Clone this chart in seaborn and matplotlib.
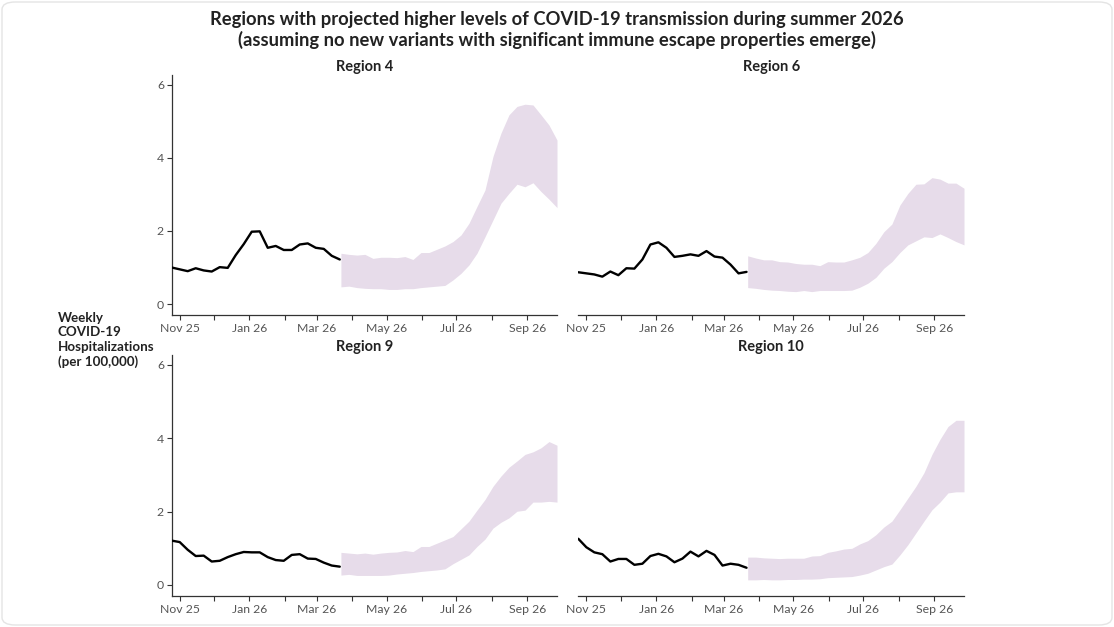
import numpy as np
import pandas as pd
import matplotlib
matplotlib.use("Agg")
import matplotlib.pyplot as plt
import matplotlib.dates as mdates
from matplotlib.patches import FancyBboxPatch
import seaborn as sns

# ---------------- data ----------------
regions = ["Region 4", "Region 6", "Region 9", "Region 10"]

obs_start = "2025-10-25"
proj_start = "2026-03-22"

obs_r4 = [1.00, 0.95, 0.90, 0.98, 0.92, 0.89, 1.01, 0.99, 1.34, 1.64, 1.98, 1.99,
          1.54, 1.59, 1.48, 1.48, 1.63, 1.66, 1.54, 1.51, 1.32, 1.22]
obs_r6 = [0.87, 0.84, 0.81, 0.75, 0.89, 0.79, 0.98, 0.97, 1.22, 1.63, 1.69, 1.54,
          1.29, 1.32, 1.36, 1.32, 1.45, 1.30, 1.27, 1.08, 0.84, 0.88]
obs_r9 = [1.21, 1.17, 0.96, 0.79, 0.80, 0.64, 0.66, 0.76, 0.84, 0.90, 0.89, 0.89,
          0.76, 0.68, 0.66, 0.82, 0.84, 0.72, 0.71, 0.61, 0.53, 0.50]
obs_r10 = [1.26, 1.03, 0.89, 0.84, 0.64, 0.71, 0.71, 0.55, 0.58, 0.79, 0.85, 0.78,
           0.62, 0.72, 0.91, 0.78, 0.93, 0.82, 0.53, 0.58, 0.55, 0.47]

up_r4 = [1.39, 1.36, 1.34, 1.36, 1.25, 1.28, 1.28, 1.27, 1.30, 1.22, 1.41, 1.41, 1.50, 1.59,
         1.71, 1.89, 2.21, 2.67, 3.12, 4.04, 4.68, 5.18, 5.41, 5.47, 5.45, 5.18, 4.90, 4.49]
lo_r4 = [0.47, 0.49, 0.45, 0.43, 0.42, 0.42, 0.40, 0.40, 0.42, 0.42, 0.45, 0.47, 0.49, 0.51,
         0.66, 0.84, 1.07, 1.39, 1.84, 2.30, 2.76, 3.03, 3.28, 3.21, 3.32, 3.08, 2.87, 2.64]
up_r6 = [1.32, 1.26, 1.21, 1.21, 1.16, 1.15, 1.11, 1.09, 1.09, 1.05, 1.16, 1.15, 1.15, 1.21,
         1.28, 1.41, 1.66, 1.98, 2.19, 2.71, 3.03, 3.28, 3.29, 3.46, 3.42, 3.31, 3.31, 3.17]
lo_r6 = [0.45, 0.43, 0.40, 0.38, 0.37, 0.35, 0.34, 0.37, 0.34, 0.37, 0.37, 0.37, 0.37, 0.38,
         0.46, 0.57, 0.73, 0.98, 1.16, 1.41, 1.62, 1.73, 1.84, 1.82, 1.92, 1.82, 1.71, 1.62]
up_r9 = [0.89, 0.87, 0.85, 0.87, 0.84, 0.87, 0.89, 0.90, 0.94, 0.91, 1.05, 1.05, 1.14, 1.23,
         1.32, 1.53, 1.74, 2.04, 2.33, 2.69, 2.97, 3.21, 3.38, 3.56, 3.63, 3.74, 3.91, 3.81]
lo_r9 = [0.27, 0.29, 0.26, 0.26, 0.26, 0.26, 0.27, 0.30, 0.32, 0.34, 0.37, 0.39, 0.41, 0.44,
         0.58, 0.70, 0.82, 1.05, 1.25, 1.55, 1.71, 1.83, 2.01, 2.04, 2.26, 2.26, 2.28, 2.26]
up_r10 = [0.76, 0.76, 0.74, 0.73, 0.72, 0.73, 0.73, 0.73, 0.79, 0.80, 0.89, 0.93, 0.98, 1.00,
          1.12, 1.21, 1.37, 1.58, 1.74, 2.05, 2.37, 2.69, 3.06, 3.56, 3.97, 4.32, 4.49, 4.49]
lo_r10 = [0.14, 0.14, 0.15, 0.14, 0.14, 0.15, 0.15, 0.16, 0.16, 0.17, 0.20, 0.21, 0.22, 0.23,
          0.27, 0.32, 0.41, 0.50, 0.57, 0.82, 1.10, 1.42, 1.74, 2.05, 2.26, 2.51, 2.54, 2.54]

observed = [obs_r4, obs_r6, obs_r9, obs_r10]
upper = [up_r4, up_r6, up_r9, up_r10]
lower = [lo_r4, lo_r6, lo_r9, lo_r10]

y_ticks = [0, 2, 4, 6]

title = ("Regions with projected higher levels of COVID-19 transmission during summer 2026\n"
         "(assuming no new variants with significant immune escape properties emerge)")
ylabel = "Weekly\nCOVID-19\nHospitalizations\n(per 100,000)"

# ---------------- style ----------------
sns.set_theme(style="white")
plt.rcParams["font.family"] = ["Lato", "DejaVu Sans"]

W, H = 1114, 627
fig = plt.figure(figsize=(W / 100, H / 100), dpi=100)
fig.patch.set_facecolor("white")

# faint rounded frame
fig.patches.append(FancyBboxPatch((2 / W, 2 / H), 1 - 4 / W, 1 - 4 / H,
                                  boxstyle="round,pad=0,rounding_size=0.012",
                                  transform=fig.transFigure, fill=False,
                                  edgecolor="#e4e4e4", linewidth=1.0))

# axes rects in pixels: (left, right, top, bottom)
rects = [(171.7, 557.0, 75, 315), (578.3, 964.0, 75, 315),
         (171.7, 557.0, 355, 596), (578.3, 964.0, 355, 596)]

xmin = pd.Timestamp("2025-10-25")
xmax = pd.Timestamp("2026-09-27")
month_ticks = pd.date_range("2025-11-01", "2026-09-01", freq="MS")

ribbon_color = "#e7dcea"
ink = "#222222"

for i, (name, obs, up, lo) in enumerate(zip(regions, observed, upper, lower)):
    l, r, t, b = rects[i]
    ax = fig.add_axes([l / W, 1 - b / H, (r - l) / W, (b - t) / H])
    obs_dates = pd.date_range(obs_start, periods=len(obs), freq="7D")
    proj_dates = pd.date_range(proj_start, periods=len(up), freq="7D")
    df_obs = pd.DataFrame({"date": obs_dates, "value": obs})

    ax.fill_between(proj_dates, lo, up, color=ribbon_color, linewidth=0, zorder=1)
    sns.lineplot(data=df_obs, x="date", y="value", ax=ax, color="black",
                 linewidth=1.7, zorder=3)

    ax.set_xlim(xmin, xmax)
    ax.set_ylim(-0.3, 6.27)
    ax.set_xlabel("")
    ax.set_ylabel("")
    ax.set_facecolor("white")

    ax.set_xticks(month_ticks)
    ax.set_xticklabels([d.strftime("%b %y") if k % 2 == 0 else ""
                        for k, d in enumerate(month_ticks)])
    ax.tick_params(axis="x", bottom=True, length=3.5, width=0.8, color="#333333",
                   labelsize=8.8, labelcolor="#555555", pad=2)

    for s in ["top", "right"]:
        ax.spines[s].set_visible(False)
    ax.spines["bottom"].set_color("#333333")
    ax.spines["bottom"].set_linewidth(0.9)

    if i % 2 == 0:
        ax.set_yticks(y_ticks)
        ax.set_yticklabels([str(v) for v in y_ticks])
        ax.tick_params(axis="y", left=True, length=3.5, width=0.8, color="#333333",
                       labelsize=8.8, labelcolor="#555555", pad=2)
        ax.spines["left"].set_color("#333333")
        ax.spines["left"].set_linewidth(0.9)
    else:
        ax.spines["left"].set_visible(False)
        ax.set_yticks([])

    ax.set_title(name, fontsize=10.5, fontweight="bold", color=ink, pad=3)

fig.text(0.5, 1 - 30 / H, title, ha="center", va="center", fontsize=13.2,
         fontweight="bold", color=ink, linespacing=1.2)
fig.text(58 / W, 1 - 340 / H, ylabel, ha="left", va="center", fontsize=9.6,
         fontweight="bold", color=ink, linespacing=1.25)

fig.savefig("out.png", dpi=100, facecolor="white")
